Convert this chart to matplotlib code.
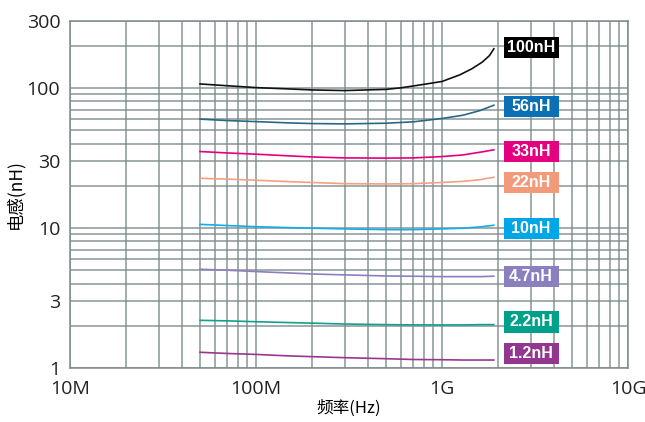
import matplotlib
matplotlib.use("Agg")
import matplotlib.pyplot as plt
import matplotlib.transforms as mtransforms
from matplotlib.patches import Rectangle
from matplotlib.ticker import LogLocator, FixedLocator, NullFormatter, FixedFormatter

plt.rcParams['font.family'] = ['Open Sans', 'Noto Sans CJK SC', 'DejaVu Sans']

# frequency points (Hz)
freq = [50e6, 70e6, 100e6, 150e6, 200e6, 300e6, 500e6, 700e6, 1e9, 1.3e9, 1.6e9, 1.9e9]
freq_100 = [50e6, 70e6, 100e6, 150e6, 200e6, 300e6, 500e6, 600e6, 750e6, 1e9, 1.25e9,
            1.45e9, 1.65e9, 1.8e9, 1.9e9]

ind_100 = [106.6, 103.5, 100.4, 98.2, 96.6, 95.6, 97.5, 100, 104.5, 111, 124, 137, 153, 170, 190]
ind_56 = [59.8, 58.4, 57.4, 56.2, 55.6, 55.3, 55.9, 57.2, 60.4, 63.8, 68.8, 75.2]
ind_33 = [35.1, 34.3, 33.6, 32.7, 32.1, 31.6, 31.5, 31.6, 32.3, 33.2, 34.7, 36.1]
ind_22 = [22.6, 22.3, 21.9, 21.4, 21.1, 20.7, 20.6, 20.7, 21.1, 21.5, 22.1, 23.0]
ind_10 = [10.6, 10.4, 10.2, 10.05, 9.95, 9.84, 9.72, 9.72, 9.84, 9.95, 10.17, 10.45]
ind_4p7 = [5.07, 4.99, 4.88, 4.77, 4.69, 4.62, 4.54, 4.52, 4.49, 4.49, 4.49, 4.52]
ind_2p2 = [2.19, 2.17, 2.14, 2.11, 2.09, 2.06, 2.04, 2.03, 2.03, 2.03, 2.04, 2.04]
ind_1p2 = [1.295, 1.27, 1.25, 1.22, 1.205, 1.185, 1.165, 1.15, 1.146, 1.14, 1.14, 1.14]

series = [(freq_100, ind_100), (freq, ind_56), (freq, ind_33), (freq, ind_22),
          (freq, ind_10), (freq, ind_4p7), (freq, ind_2p2), (freq, ind_1p2)]
labels = ['100nH', '56nH', '33nH', '22nH', '10nH', '4.7nH', '2.2nH', '1.2nH']
line_colors = ['#111111', '#276985', '#e5007f', '#f4a083', '#12aee8', '#8a80c0', '#14a08e', '#98378f']
box_colors = ['#000000', '#0b6fb5', '#e4007f', '#f29a7a', '#00a7e6', '#8a80bf', '#00a08b', '#93368f']
label_y = [194.6, 73.1, 35.2, 21.0, 9.92, 4.47, 2.13, 1.27]

x_ticks = [1e7, 1e8, 1e9, 1e10]
x_ticklabels = ['10M', '100M', '1G', '10G']
y_ticks = [1, 3, 10, 30, 100, 300]
y_ticklabels = ['1', '3', '10', '30', '100', '300']

W, H = 645, 422
fig = plt.figure(figsize=(W / 100, H / 100), dpi=100)
ax = fig.add_axes([70 / W, 1 - 368 / H, (628 - 70) / W, (368 - 21) / H])

ax.set_xscale('log')
ax.set_yscale('log')
ax.set_xlim(1e7, 1e10)
ax.set_ylim(1, 300)

grid_color = '#7e8b8c'
ax.xaxis.set_major_locator(FixedLocator(x_ticks))
ax.xaxis.set_major_formatter(FixedFormatter(x_ticklabels))
ax.xaxis.set_minor_locator(LogLocator(base=10, subs=range(2, 10), numticks=20))
ax.xaxis.set_minor_formatter(NullFormatter())
ax.yaxis.set_major_locator(FixedLocator(y_ticks))
ax.yaxis.set_major_formatter(FixedFormatter(y_ticklabels))
ax.yaxis.set_minor_locator(LogLocator(base=10, subs=range(1, 10), numticks=20))
ax.yaxis.set_minor_formatter(NullFormatter())

ax.grid(True, which='both', color=grid_color, linewidth=1.1, alpha=0.9)
ax.set_axisbelow(True)
ax.tick_params(which='both', length=0)
ax.tick_params(axis='y', pad=7, labelsize=14, colors='#222222')
ax.tick_params(axis='x', pad=9, labelsize=14, colors='#222222')
for s in ax.spines.values():
    s.set_color(grid_color)
    s.set_linewidth(1.1)

for (fx, vals), c in zip(series, line_colors):
    ax.plot(fx, vals, color=c, linewidth=1.2, zorder=3)

blend = mtransforms.blended_transform_factory(ax.transAxes, ax.transData)
bw = 55 / (628 - 70)
bxc = (531 - 70) / (628 - 70)
half = 10.5 / 140.0
for lab, ly, bc in zip(labels, label_y, box_colors):
    ylo = ly * 10 ** (-half)
    yhi = ly * 10 ** (half)
    ax.add_patch(Rectangle((bxc - bw / 2, ylo), bw, yhi - ylo, transform=blend,
                           facecolor=bc, edgecolor='none', zorder=4, clip_on=False))
    ax.text(bxc, ly, lab, transform=blend, ha='center', va='center', color='white',
            fontsize=11.5, fontweight='bold', family=['Liberation Sans', 'DejaVu Sans'], zorder=5)

ax.set_xlabel('频率(Hz)', fontsize=12, labelpad=1, family=['Noto Sans CJK SC', 'DejaVu Sans'])
ax.set_ylabel('电感(nH)', fontsize=12.5, labelpad=2, family=['Noto Sans CJK SC', 'DejaVu Sans'])

fig.savefig('out.png', dpi=100)
